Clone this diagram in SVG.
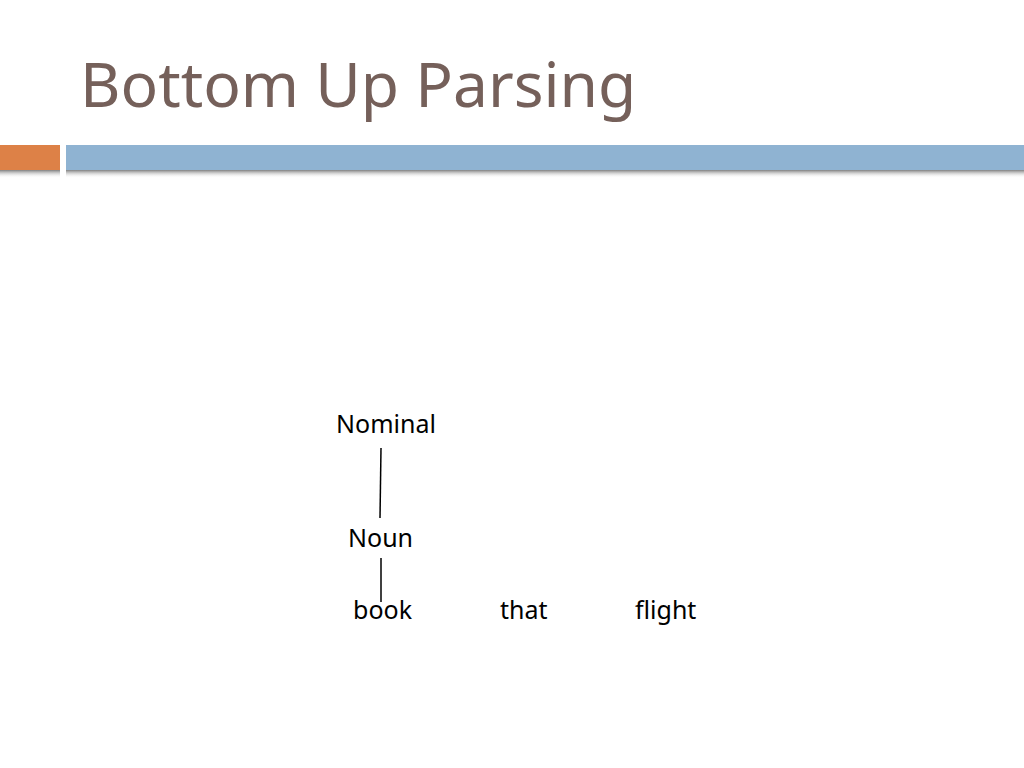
<svg xmlns="http://www.w3.org/2000/svg" width="1024" height="768" viewBox="0 0 1024 768">
<defs>
<style>
.lbl{font-family:"Noto Sans","Open Sans",sans-serif;font-size:25px;fill:#000}
.edge{stroke:#000;stroke-width:1.5;fill:none}
</style>
<linearGradient id="sh" x1="0" y1="0" x2="0" y2="1">
<stop offset="0" stop-color="#808080"/>
<stop offset="1" stop-color="#ffffff" stop-opacity="0"/>
</linearGradient>
</defs>
<rect width="1024" height="768" fill="#fff"/>
<text x="80" y="107" font-family="'Noto Sans','Open Sans',sans-serif" font-size="62.3" fill="#75605a">Bottom Up Parsing</text>
<rect x="0" y="170" width="60" height="8" fill="url(#sh)"/>
<rect x="66" y="170" width="958" height="8" fill="url(#sh)"/>
<rect x="0" y="145" width="60" height="25" fill="#dd8147"/>
<rect x="66" y="145" width="958" height="25" fill="#8fb3d2"/>
<g id="connectors">
<line class="edge" x1="381" y1="448" x2="380" y2="518"/>
<line class="edge" x1="381" y1="558" x2="381" y2="602"/>
</g>
<g id="nominal"><text class="lbl" x="336" y="433">Nominal</text></g>
<g id="noun"><text class="lbl" x="348" y="547">Noun</text></g>
<g id="book"><text class="lbl" x="353" y="619">book</text></g>
<g id="that"><text class="lbl" x="500" y="619">that</text></g>
<g id="flight"><text class="lbl" x="635" y="619">flight</text></g>
</svg>
